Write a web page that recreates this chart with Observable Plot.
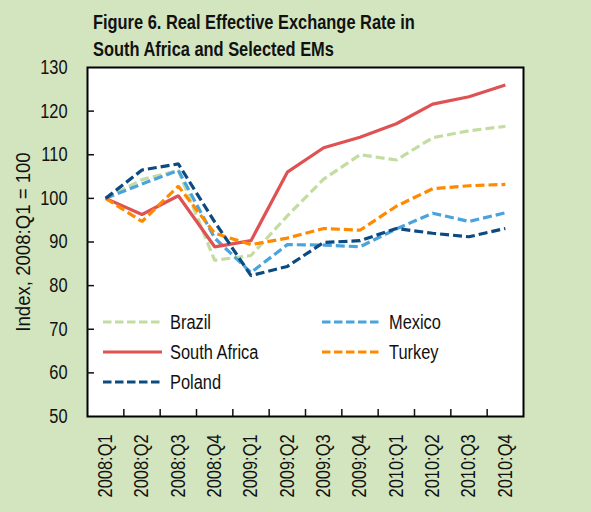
<!DOCTYPE html>
<html>
<head>
<meta charset="utf-8">
<script src="https://cdn.jsdelivr.net/npm/d3@7"></script>
<script src="https://cdn.jsdelivr.net/npm/@observablehq/plot@0.6"></script>
<style>
  html, body { margin: 0; padding: 0; background: #d3e5bf; }
  #wrap { position: relative; width: 591px; height: 512px; overflow: hidden; background: #d3e5bf;
    font-family: "Liberation Sans", Arial, sans-serif; }
  #title { position: absolute; left: 93px; top: 9px; font-weight: bold; font-size: 20px; line-height: 27px; color: #111;
    white-space: nowrap; transform: scaleX(0.82); transform-origin: 0 0; }
  #chart { position: absolute; left: 0; top: 0; }
  #legend { position: absolute; left: 0; top: 0; pointer-events: none; }
</style>
</head>
<body>
<div id="wrap">
  <div id="chart"></div>
  <div id="title">Figure 6. Real Effective Exchange Rate in<br>South Africa and Selected EMs</div>
  <svg id="legend" width="591" height="512"></svg>
</div>
<script>
const quarters = ["2008:Q1","2008:Q2","2008:Q3","2008:Q4","2009:Q1","2009:Q2","2009:Q3","2009:Q4","2010:Q1","2010:Q2","2010:Q3","2010:Q4"];
const brazil      = [100, 104.3, 106.4, 85.8, 86.9,  96.0, 104.4, 110.0, 108.8, 113.9, 115.5, 116.5];
const mexico      = [100, 103.3, 106.4, 90.9, 83.0,  89.4,  89.3,  88.9,  93.0,  96.6,  94.7,  96.7];
const southAfrica = [100,  96.3, 100.6, 88.9, 90.3, 106.0, 111.6, 114.0, 117.1, 121.6, 123.3, 126.0];
const turkey      = [100,  94.7, 102.8, 92.0, 89.4,  90.9,  93.1,  92.7,  98.2, 102.2, 102.9, 103.2];
const poland      = [100, 106.5, 107.9, 94.6, 82.3,  84.4,  89.9,  90.3,  93.1,  92.0,  91.2,  93.1];
const yTicks = [50, 60, 70, 80, 90, 100, 110, 120, 130];
const yLabel = "Index, 2008:Q1 = 100";

const series = [
  {name: "Brazil",       values: brazil,      color: "#c3dca1", dash: "9,4"},
  {name: "Mexico",       values: mexico,      color: "#4ba3de", dash: "9,4"},
  {name: "South Africa", values: southAfrica, color: "#df5253", dash: null},
  {name: "Turkey",       values: turkey,      color: "#ff8a00", dash: "9,4"},
  {name: "Poland",       values: poland,      color: "#0c4a80", dash: "9,4"}
];

const font = "'Liberation Sans', Arial, sans-serif";
const idx = d3.range(quarters.length);

const lineMarks = series.map(s =>
  Plot.line(idx.map(i => ({i, v: s.values[i]})), {
    x: "i", y: "v", stroke: s.color, strokeWidth: 3.2,
    strokeDasharray: s.dash, strokeLinejoin: "miter", strokeLinecap: "butt"
  })
);

const chart = Plot.plot({
  width: 591,
  height: 512,
  marginLeft: 87,
  marginRight: 68,
  marginTop: 67,
  marginBottom: 96,
  style: {background: "transparent", fontFamily: font, fontSize: "20px", color: "#111"},
  x: {domain: [-0.5, quarters.length - 0.5]},
  y: {domain: [50, 130]},
  marks: [
    Plot.frame({fill: "white", stroke: null}),
    ...lineMarks,
    Plot.frame({stroke: "black", strokeWidth: 2}),
    Plot.axisY({ticks: yTicks, tickSize: 0, tickPadding: 20, label: null, fontSize: 20}),
    Plot.axisY({ticks: yTicks.slice(1, -1), tickSize: -7, fill: "none", label: null, strokeWidth: 1.5}),
    Plot.axisX({ticks: idx, tickFormat: i => quarters[i], tickRotate: -90, tickSize: 0, tickPadding: 18, label: null, fontSize: 20}),
    Plot.axisX({ticks: idx.slice(0, -1).map(i => i + 0.5), tickSize: -7, fill: "none", label: null, strokeWidth: 1.5}),
    Plot.text([yLabel], {frameAnchor: "left", textAnchor: "middle", rotate: -90, dx: -64, fontSize: 20, fill: "#111", className: "ylabel"})
  ]
});
document.getElementById("chart").appendChild(chart);

// Legend (inside the plot area, two columns like the original)
const legendRows = [
  [series[0], series[1]],
  [series[2], series[3]],
  [series[4], null]
];
const lg = d3.select("#legend");
const colX = [103, 322];
legendRows.forEach((row, r) => {
  row.forEach((s, c) => {
    if (!s) return;
    const y = 322 + r * 30;
    const x0 = colX[c];
    lg.append("line").attr("x1", x0).attr("x2", x0 + 59).attr("y1", y).attr("y2", y)
      .attr("stroke", s.color).attr("stroke-width", 3.2)
      .attr("stroke-dasharray", s.dash ? "8.5,3.5" : null);
    lg.append("text").attr("x", x0 + 67).attr("y", y).attr("dy", "0.36em")
      .attr("font-family", font).attr("font-size", 20).attr("fill", "#111").text(s.name);
  });
});

// Narrow the glyphs (Arial Narrow look) without changing their anchors
function narrow(root, k, selector = "text") {
  root.querySelectorAll(selector).forEach(t => {
    const w = t.getComputedTextLength();
    if (w > 0) {
      t.setAttribute("textLength", (w * k).toFixed(2));
      t.setAttribute("lengthAdjust", "spacingAndGlyphs");
    }
  });
}
narrow(chart, 0.82, "text:not(.ylabel text)");
narrow(chart, 0.93, ".ylabel text");
narrow(document.getElementById("legend"), 0.82);
</script>
</body>
</html>
